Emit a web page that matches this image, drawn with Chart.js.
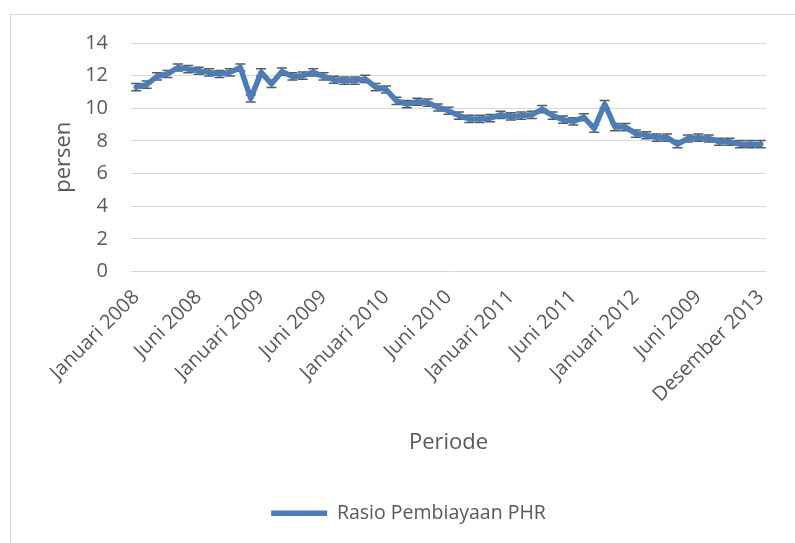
<!DOCTYPE html>
<html>
<head>
<meta charset="utf-8">
<script src="https://cdn.jsdelivr.net/npm/chart.js@4"></script>
<style>
    html, body {
        margin: 0;
        padding: 0;
        background: #ffffff;
        overflow: hidden;
    }

    .chart-frame {
        position: absolute;
        left: 10px;
        top: 14px;
        width: 820px;
        height: 560px;
        border: 1px solid #d9d9d9;
    }

    .chart-wrap {
        position: absolute;
        left: 0;
        top: 0;
        width: 795px;
        height: 543px;
    }
</style>
</head>
<body>
<div class="chart-frame"></div>
<div class="chart-wrap">
    <canvas id="rasioChart"></canvas>
</div>
<script>
const tickLabels = [
    'Januari 2008', 'Juni 2008', 'Januari 2009', 'Juni 2009', 'Januari 2010', 'Juni 2010',
    'Januari 2011', 'Juni 2011', 'Januari 2012', 'Juni 2009', 'Desember 2013',
];
const labelStep = 6;

const rasioPHR = [
    11.3, 11.45, 11.95, 12.1, 12.5, 12.4, 12.3, 12.2, 12.1, 12.2,
    12.5, 10.6, 12.2, 11.5, 12.25, 11.95, 12.0, 12.2, 11.95, 11.75,
    11.7, 11.7, 11.8, 11.3, 11.15, 10.45, 10.25, 10.4, 10.35, 10.05,
    9.85, 9.55, 9.35, 9.35, 9.4, 9.6, 9.5, 9.55, 9.6, 9.95,
    9.55, 9.3, 9.2, 9.45, 8.75, 10.25, 8.85, 8.85, 8.45, 8.35,
    8.2, 8.2, 7.8, 8.15, 8.2, 8.15, 7.95, 7.95, 7.8, 7.8,
    7.8,
];
const errorMargin = 0.22;

const chartText = '#595959';
const chartGrid = '#d9d9d9';
const chartLine = '#4a7ebb';
const capColor = '#5a5a5a';

Chart.defaults.font.family = '"Open Sans", sans-serif';
Chart.defaults.color = chartText;

const labels = rasioPHR.map((_, i) => (i % labelStep === 0 ? tickLabels[i / labelStep] : ''));

// small caps above / below every point, drawn under the line like excel does
const errorCaps = {
    id: 'errorCaps',
    beforeDatasetsDraw(chart) {
        const meta = chart.getDatasetMeta(0);
        const yScale = chart.scales.y;
        const ctx = chart.ctx;

        ctx.save();
        ctx.strokeStyle = capColor;
        ctx.lineWidth = 1.5;

        meta.data.forEach((point, i) => {
            const top = yScale.getPixelForValue(rasioPHR[i] + errorMargin);
            const bottom = yScale.getPixelForValue(rasioPHR[i] - errorMargin);

            ctx.beginPath();
            ctx.moveTo(point.x, top);
            ctx.lineTo(point.x, bottom);
            ctx.moveTo(point.x - 5, top);
            ctx.lineTo(point.x + 5, top);
            ctx.moveTo(point.x - 5, bottom);
            ctx.lineTo(point.x + 5, bottom);
            ctx.stroke();
        });

        ctx.restore();
    },
};

new Chart(document.getElementById('rasioChart'), {
    type: 'line',
    data: {
        labels: labels,
        datasets: [{
            label: 'Rasio Pembiayaan PHR',
            data: rasioPHR,
            borderColor: chartLine,
            backgroundColor: chartLine,
            borderWidth: 5.5,
            borderCapStyle: 'round',
            borderJoinStyle: 'round',
            pointRadius: 0,
            pointHoverRadius: 0,
            tension: 0,
        }],
    },
    options: {
        responsive: true,
        maintainAspectRatio: false,
        animation: false,
        layout: {
            padding: {
                left: 51,
                right: 29,
                top: 43,
                bottom: 10,
            },
        },
        plugins: {
            legend: {
                position: 'bottom',
                labels: {
                    usePointStyle: true,
                    pointStyle: 'line',
                    pointStyleWidth: 56,
                    padding: 10,
                    color: chartText,
                    font: {
                        size: 19.5,
                    },
                },
            },
            tooltip: {
                enabled: false,
            },
        },
        scales: {
            x: {
                offset: true,
                afterFit: (scale) => {
                    scale.height = 222;
                },
                grid: {
                    display: false,
                },
                border: {
                    display: false,
                },
                ticks: {
                    autoSkip: false,
                    minRotation: 45,
                    maxRotation: 45,
                    padding: 6,
                    color: chartText,
                    font: {
                        size: 20,
                    },
                },
                title: {
                    display: true,
                    text: 'Periode',
                    color: chartText,
                    padding: {
                        top: 0,
                        bottom: 38,
                    },
                    font: {
                        size: 22,
                    },
                },
            },
            y: {
                min: 0,
                max: 14,
                afterFit: (scale) => {
                    scale.width = 80;
                },
                grid: {
                    color: chartGrid,
                    drawTicks: false,
                },
                border: {
                    display: false,
                },
                ticks: {
                    stepSize: 2,
                    padding: 23,
                    color: chartText,
                    font: {
                        size: 20,
                    },
                },
                title: {
                    display: true,
                    text: 'persen',
                    color: chartText,
                    padding: 0,
                    font: {
                        size: 22,
                    },
                },
            },
        },
    },
    plugins: [errorCaps],
});
</script>
</body>
</html>
